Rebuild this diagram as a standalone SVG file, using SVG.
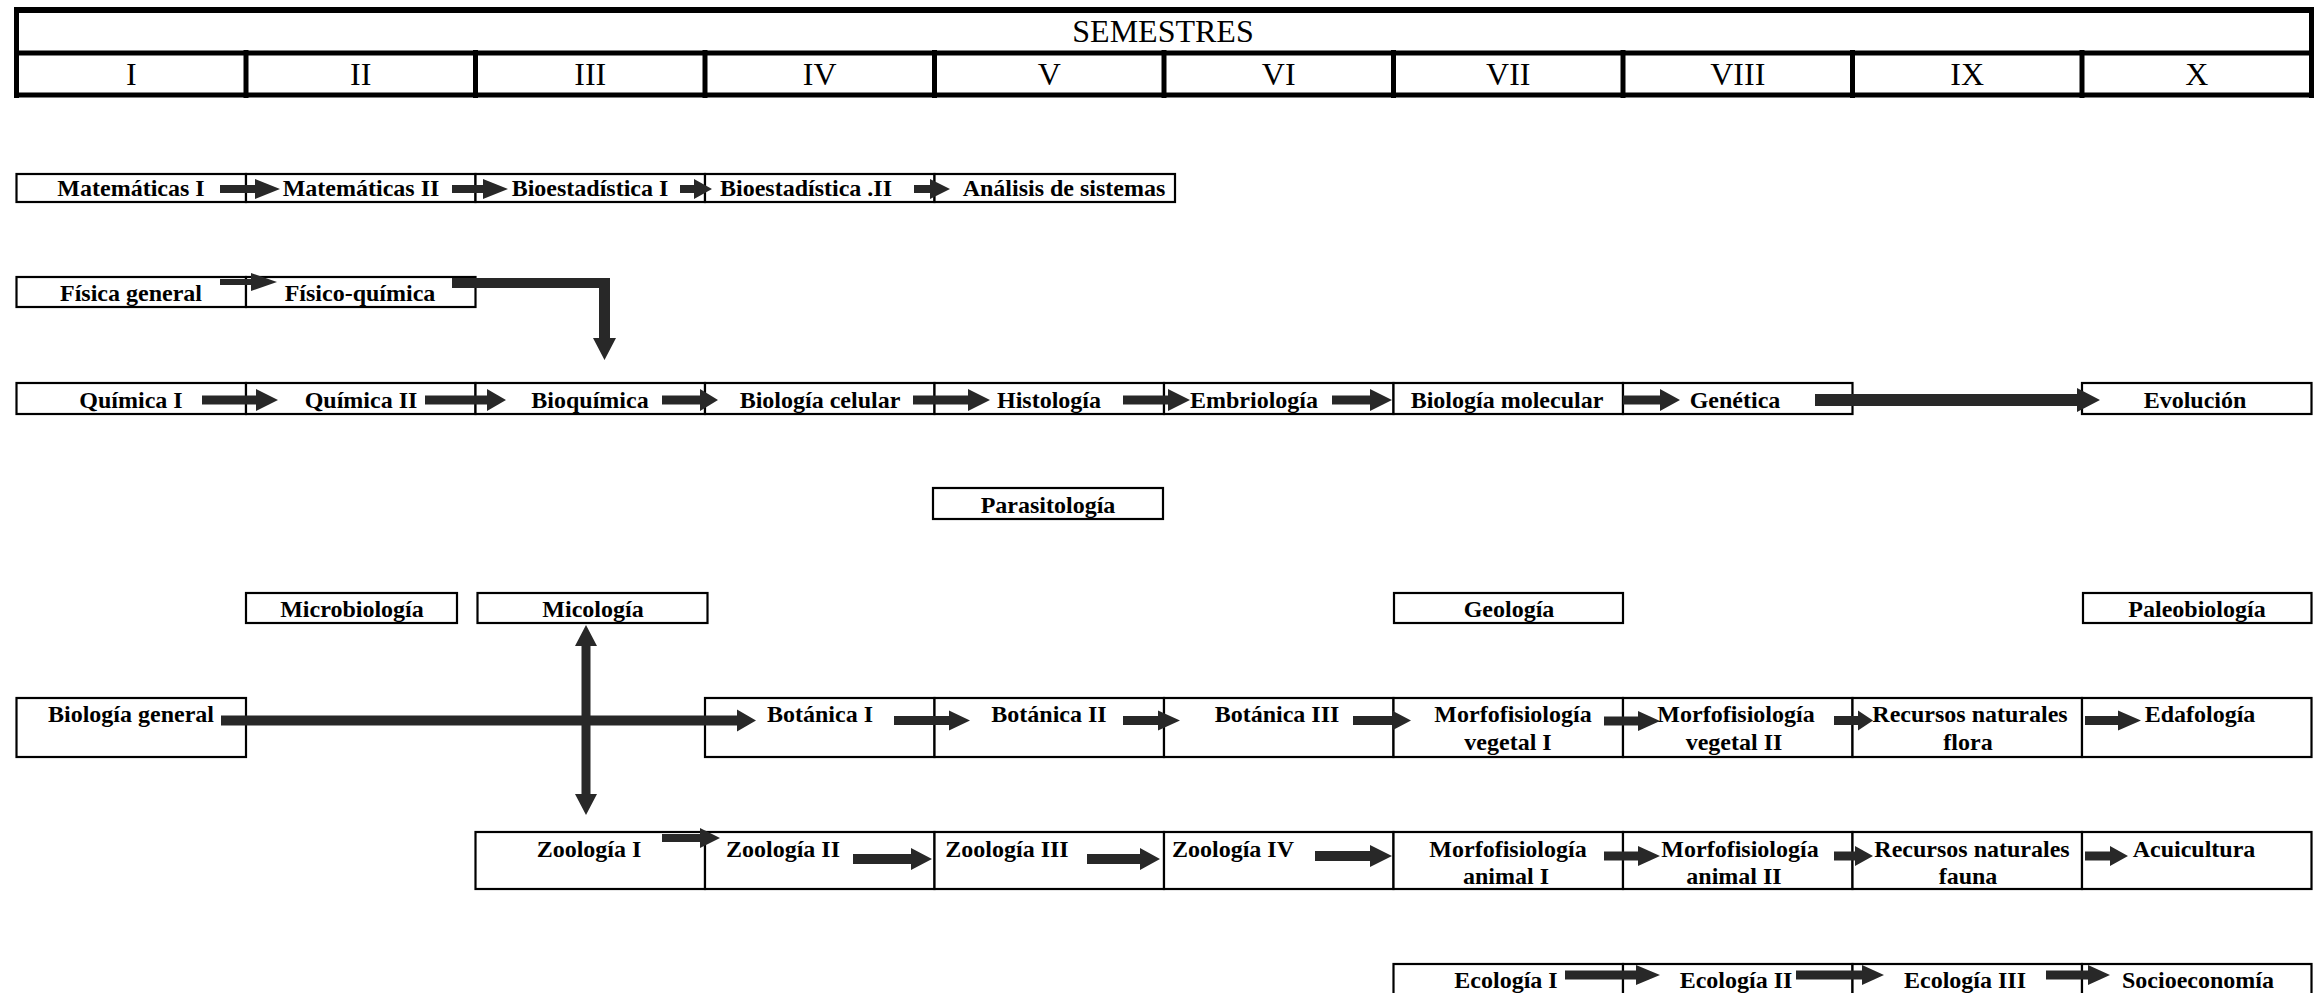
<svg xmlns="http://www.w3.org/2000/svg" width="2318" height="993" viewBox="0 0 2318 993">
<style>
.hl{stroke:#000;stroke-width:5;fill:none}
.ht{font-family:"Liberation Serif","Times New Roman",serif;font-size:32px;fill:#000;text-anchor:middle}
.bx{fill:#fff;stroke:#000;stroke-width:2.2}
.t{font-family:"Liberation Serif","Times New Roman",serif;font-weight:bold;font-size:24px;fill:#000;text-anchor:middle}
.ar{fill:#282828;stroke:none}
</style>
<rect width="2318" height="993" fill="#fff"/>
<g id="header">
<line class="hl" x1="14" y1="10" x2="2314" y2="10" style="stroke-width:6"/>
<line class="hl" x1="14" y1="53" x2="2314" y2="53"/>
<line class="hl" x1="14" y1="95" x2="2314" y2="95"/>
<line class="hl" x1="16.5" y1="7" x2="16.5" y2="98"/>
<line class="hl" x1="2311.5" y1="7" x2="2311.5" y2="98"/>
<line class="hl" x1="246" y1="50" x2="246" y2="98"/>
<line class="hl" x1="475.5" y1="50" x2="475.5" y2="98"/>
<line class="hl" x1="705" y1="50" x2="705" y2="98"/>
<line class="hl" x1="934.5" y1="50" x2="934.5" y2="98"/>
<line class="hl" x1="1164" y1="50" x2="1164" y2="98"/>
<line class="hl" x1="1393.5" y1="50" x2="1393.5" y2="98"/>
<line class="hl" x1="1623" y1="50" x2="1623" y2="98"/>
<line class="hl" x1="1852.5" y1="50" x2="1852.5" y2="98"/>
<line class="hl" x1="2082" y1="50" x2="2082" y2="98"/>
<text class="ht" x="1163" y="42">SEMESTRES</text>
<text class="ht" x="131.25" y="85">I</text>
<text class="ht" x="360.75" y="85">II</text>
<text class="ht" x="590.25" y="85">III</text>
<text class="ht" x="819.75" y="85">IV</text>
<text class="ht" x="1049.25" y="85">V</text>
<text class="ht" x="1278.75" y="85">VI</text>
<text class="ht" x="1508.25" y="85">VII</text>
<text class="ht" x="1737.75" y="85">VIII</text>
<text class="ht" x="1967.25" y="85">IX</text>
<text class="ht" x="2196.75" y="85">X</text>
</g>

<g id="mat1"><rect class="bx" x="16.5" y="174" width="229.5" height="28"/><text class="t" x="131" y="196">Matemáticas I</text></g>
<g id="mat2"><rect class="bx" x="246" y="174" width="229.5" height="28"/><text class="t" x="361" y="196">Matemáticas II</text></g>
<g id="bioest1"><rect class="bx" x="475.5" y="174" width="229.5" height="28"/><text class="t" x="590" y="196">Bioestadística I</text></g>
<g id="bioest2"><rect class="bx" x="705" y="174" width="229.5" height="28"/><text class="t" x="806" y="196">Bioestadística .II</text></g>
<g id="analisis"><rect class="bx" x="934.5" y="174" width="240.5" height="28"/><text class="t" x="1064" y="196">Análisis de sistemas</text></g>

<g id="fisica"><rect class="bx" x="16.5" y="277" width="229.5" height="30"/><text class="t" x="131" y="301">Física general</text></g>
<g id="fisicoquimica"><rect class="bx" x="246" y="277" width="229.5" height="30"/><text class="t" x="360" y="301">Físico-química</text></g>

<g id="quim1"><rect class="bx" x="16.5" y="383" width="229.5" height="31"/><text class="t" x="131" y="408">Química I</text></g>
<g id="quim2"><rect class="bx" x="246" y="383" width="229.5" height="31"/><text class="t" x="361" y="408">Química II</text></g>
<g id="bioquimica"><rect class="bx" x="475.5" y="383" width="229.5" height="31"/><text class="t" x="590" y="408">Bioquímica</text></g>
<g id="biocelular"><rect class="bx" x="705" y="383" width="229.5" height="31"/><text class="t" x="820" y="408">Biología celular</text></g>
<g id="histologia"><rect class="bx" x="934.5" y="383" width="229.5" height="31"/><text class="t" x="1049" y="408">Histología</text></g>
<g id="embriologia"><rect class="bx" x="1164" y="383" width="229.5" height="31"/><text class="t" x="1254" y="408">Embriología</text></g>
<g id="biomolecular"><rect class="bx" x="1393.5" y="383" width="229.5" height="31"/><text class="t" x="1507" y="408">Biología molecular</text></g>
<g id="genetica"><rect class="bx" x="1623" y="383" width="229.5" height="31"/><text class="t" x="1735" y="408">Genética</text></g>
<g id="evolucion"><rect class="bx" x="2082" y="383" width="229.5" height="31"/><text class="t" x="2195" y="408">Evolución</text></g>

<g id="parasitologia"><rect class="bx" x="933" y="488" width="230" height="31"/><text class="t" x="1048" y="513">Parasitología</text></g>

<g id="microbiologia"><rect class="bx" x="246" y="593" width="211" height="30"/><text class="t" x="352" y="617">Microbiología</text></g>
<g id="micologia"><rect class="bx" x="477.5" y="593" width="230" height="30"/><text class="t" x="593" y="617">Micología</text></g>
<g id="geologia"><rect class="bx" x="1394" y="593" width="229" height="30"/><text class="t" x="1509" y="617">Geología</text></g>
<g id="paleobiologia"><rect class="bx" x="2083" y="593" width="228.5" height="30"/><text class="t" x="2197" y="617">Paleobiología</text></g>

<g id="biogeneral"><rect class="bx" x="16.5" y="698" width="229.5" height="59"/><text class="t" x="131" y="722">Biología general</text></g>
<g id="botanica1"><rect class="bx" x="705" y="698" width="229.5" height="59"/><text class="t" x="820" y="722">Botánica I</text></g>
<g id="botanica2"><rect class="bx" x="934.5" y="698" width="229.5" height="59"/><text class="t" x="1049" y="722">Botánica II</text></g>
<g id="botanica3"><rect class="bx" x="1164" y="698" width="229.5" height="59"/><text class="t" x="1277" y="722">Botánica III</text></g>
<g id="morfoveg1"><rect class="bx" x="1393.5" y="698" width="229.5" height="59"/><text class="t" x="1513" y="722">Morfofisiología</text><text class="t" x="1508" y="750">vegetal I</text></g>
<g id="morfoveg2"><rect class="bx" x="1623" y="698" width="229.5" height="59"/><text class="t" x="1736" y="722">Morfofisiología</text><text class="t" x="1734" y="750">vegetal II</text></g>
<g id="rnflora"><rect class="bx" x="1852.5" y="698" width="229.5" height="59"/><text class="t" x="1970" y="722">Recursos naturales</text><text class="t" x="1968" y="750">flora</text></g>
<g id="edafologia"><rect class="bx" x="2082" y="698" width="229.5" height="59"/><text class="t" x="2200" y="722">Edafología</text></g>

<g id="zoologia1"><rect class="bx" x="475.5" y="832" width="229.5" height="57"/><text class="t" x="589" y="857">Zoología I</text></g>
<g id="zoologia2"><rect class="bx" x="705" y="832" width="229.5" height="57"/><text class="t" x="783" y="857">Zoología II</text></g>
<g id="zoologia3"><rect class="bx" x="934.5" y="832" width="229.5" height="57"/><text class="t" x="1007" y="857">Zoología III</text></g>
<g id="zoologia4"><rect class="bx" x="1164" y="832" width="229.5" height="57"/><text class="t" x="1233" y="857">Zoología IV</text></g>
<g id="morfoan1"><rect class="bx" x="1393.5" y="832" width="229.5" height="57"/><text class="t" x="1508" y="857">Morfofisiología</text><text class="t" x="1506" y="884">animal I</text></g>
<g id="morfoan2"><rect class="bx" x="1623" y="832" width="229.5" height="57"/><text class="t" x="1740" y="857">Morfofisiología</text><text class="t" x="1734" y="884">animal II</text></g>
<g id="rnfauna"><rect class="bx" x="1852.5" y="832" width="229.5" height="57"/><text class="t" x="1972" y="857">Recursos naturales</text><text class="t" x="1968" y="884">fauna</text></g>
<g id="acuicultura"><rect class="bx" x="2082" y="832" width="229.5" height="57"/><text class="t" x="2194" y="857">Acuicultura</text></g>

<g id="ecologia1"><rect class="bx" x="1393.5" y="964" width="229.5" height="50"/><text class="t" x="1506" y="988">Ecología I</text></g>
<g id="ecologia2"><rect class="bx" x="1623" y="964" width="229.5" height="50"/><text class="t" x="1736" y="988">Ecología II</text></g>
<g id="ecologia3"><rect class="bx" x="1852.5" y="964" width="229.5" height="50"/><text class="t" x="1965" y="988">Ecología III</text></g>
<g id="socioeconomia"><rect class="bx" x="2082" y="964" width="229.5" height="50"/><text class="t" x="2198" y="988">Socioeconomía</text></g>

<g id="connectors">
<polygon class="ar" points="220,185 255,185 255,179 280,189 255,199 255,193 220,193"/>
<polygon class="ar" points="452,185 483,185 483,179 508,189 483,199 483,193 452,193"/>
<polygon class="ar" points="680,185 694,185 694,179 712,189 694,199 694,193 680,193"/>
<polygon class="ar" points="914,185 930,185 930,179 950,189 930,199 930,193 914,193"/>
<polygon class="ar" points="220,279 251,279 251,273 277,282 251,291 251,285 220,285"/>
<polygon class="ar" points="452,278 610,278 610,338 616,338 604.5,360 593,338 599,338 599,288 452,288"/>
<polygon class="ar" points="202,395.5 256,395.5 256,389 278,400 256,411 256,404.5 202,404.5"/>
<polygon class="ar" points="425,395.5 487,395.5 487,389 506,400 487,411 487,404.5 425,404.5"/>
<polygon class="ar" points="662,395.5 700,395.5 700,389 718,400 700,411 700,404.5 662,404.5"/>
<polygon class="ar" points="913,395.5 968,395.5 968,389 990,400 968,411 968,404.5 913,404.5"/>
<polygon class="ar" points="1123,395.5 1168,395.5 1168,389 1190,400 1168,411 1168,404.5 1123,404.5"/>
<polygon class="ar" points="1332,395.5 1370,395.5 1370,389 1392,400 1370,411 1370,404.5 1332,404.5"/>
<polygon class="ar" points="1623,395.5 1660,395.5 1660,389 1680,400 1660,411 1660,404.5 1623,404.5"/>
<polygon class="ar" points="1815,394 2077,394 2077,388 2100,400 2077,412 2077,406 1815,406"/>
<polygon class="ar" points="586,625 597,646 590.5,646 590.5,794 597,794 586,815 575,794 581.5,794 581.5,646 575,646"/>
<polygon class="ar" points="221,715.5 737,715.5 737,709.5 756,720.5 737,731.5 737,725.5 221,725.5"/>
<polygon class="ar" points="894,716 949,716 949,710.5 970,720.5 949,730.5 949,725 894,725"/>
<polygon class="ar" points="1123,716 1158,716 1158,710.5 1180,720.5 1158,730.5 1158,725 1123,725"/>
<polygon class="ar" points="1353,716 1392,716 1392,710.5 1411,720.5 1392,730.5 1392,725 1353,725"/>
<polygon class="ar" points="1604,716.5 1638,716.5 1638,711 1660,721 1638,731 1638,725.5 1604,725.5"/>
<polygon class="ar" points="1834,716 1858,716 1858,710.5 1873,720.5 1858,730.5 1858,725 1834,725"/>
<polygon class="ar" points="2085,716 2118,716 2118,710.5 2141,720.5 2118,730.5 2118,725 2085,725"/>
<polygon class="ar" points="662,834 700,834 700,828 720,838 700,848 700,842 662,842"/>
<polygon class="ar" points="853,854 911,854 911,848 932,859 911,870 911,864 853,864"/>
<polygon class="ar" points="1087,854 1140,854 1140,848 1160,859 1140,870 1140,864 1087,864"/>
<polygon class="ar" points="1315,851 1370,851 1370,845 1392,856 1370,867 1370,861 1315,861"/>
<polygon class="ar" points="1604,851.5 1638,851.5 1638,846 1660,856 1638,866 1638,860.5 1604,860.5"/>
<polygon class="ar" points="1834,851.5 1855,851.5 1855,846 1873,856 1855,866 1855,860.5 1834,860.5"/>
<polygon class="ar" points="2085,851.5 2110,851.5 2110,846 2128,856 2110,866 2110,860.5 2085,860.5"/>
<polygon class="ar" points="1565,970.5 1636,970.5 1636,965 1660,975 1636,985 1636,979.5 1565,979.5"/>
<polygon class="ar" points="1796,970.5 1862,970.5 1862,965 1884,975 1862,985 1862,979.5 1796,979.5"/>
<polygon class="ar" points="2046,970.5 2088,970.5 2088,965 2110,975 2088,985 2088,979.5 2046,979.5"/>
</g>
</svg>
